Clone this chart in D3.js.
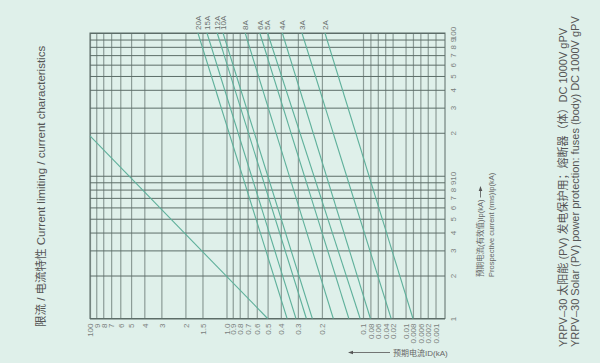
<!DOCTYPE html>
<html><head><meta charset="utf-8">
<script src="https://cdn.jsdelivr.net/npm/d3@7"></script>
<style>html,body{margin:0;padding:0;background:#dff0ea;} svg{display:block}</style>
</head><body>
<svg id="c" width="600" height="363"></svg>
<script>
// ---- data ----
const ipTicks = [1,2,3,4,5,6,7,8,9,10,20,30,40,50,60,70,80,90,100];
const ipTickLabels = ["1","2","3","4","5","6","7","8","9","10","2","3","4","5","6","7","8","9","100"];
const idTicks = [10,9,8,7,6,5,4,3,2,1.5,1.0,0.9,0.8,0.7,0.6,0.5,0.4,0.3,0.2,0.1,0.08,0.06,0.04,0.02,0.01,0.008,0.006,0.002,0.001];
const idTickLabels = ["100","9","8","7","6","5","4","3","2","1.5","1.0","0.9","0.8","0.7","0.6","0.5","0.4","0.3","0.2","0.1","0.08","0.06","0.04","0.02","0.01","0.008","0.006","0.002","0.001"];
const fuseRatings = ["20A","15A","12A","10A","8A","6A","5A","4A","3A","2A"];
const idAtIp100 = [1.62,1.39,1.17,1.06,0.73,0.57,0.50,0.39,0.28,0.19];
const idAtIp1   = [0.36,0.31,0.26,0.235,0.165,0.127,0.105,0.08,0.023,0.008];
const peakIp = [19, 1];
const peakId = [10, 0.5];

// ---- layout ----
const L = 90, R = 445, T = 33, B = 318.5;
const svg = d3.select("#c");
const FONT = "'Liberation Sans','Noto Sans CJK SC',sans-serif";
const CJK = "'Noto Sans CJK SC','Liberation Sans',sans-serif";

// y: prospective current, log
const y = d3.scaleLog().domain([1,100]).range([B, T]);
// x: log from 10 to 0.1, then compressed slots below 0.1
const x01 = 363, step = 7.4;
const compTicks = [0.08,0.06,0.04,0.02,0.01,0.008,0.006,0.002,0.001];
const compSlots = [1,2,3,4,5.75,6.75,7.75,8.75,9.8];
const xLin = d3.scaleLinear()
  .domain([1, -1, ...compTicks.map(v => Math.log10(v))])
  .range([L, x01, ...compSlots.map(s => x01 + s*step)]);
const x = v => xLin(Math.log10(v));

// background
svg.append("rect").attr("width",600).attr("height",363).attr("fill","#dff0ea");

// vertical grid via bottom axis
const xAxis = d3.axisBottom(xLin)
  .tickValues(idTicks.map(v => Math.log10(v)))
  .tickFormat((d,i) => idTickLabels[i])
  .tickSize(-(B - T)).tickSizeOuter(0);
const gx = svg.append("g").attr("transform",`translate(0,${B})`).call(xAxis);
gx.select(".domain").remove();
gx.selectAll(".tick line").attr("stroke","#8c9c97").attr("stroke-width",1.2);
gx.selectAll(".tick text")
  .attr("transform","rotate(-90)").attr("x",-5).attr("y",0).attr("dy","0.35em")
  .style("text-anchor","end").attr("fill","#7a7f7d")
  .style("font-family",FONT).style("font-size","8px");

// horizontal grid via right axis
const yAxis = d3.axisRight(y)
  .tickValues(ipTicks)
  .tickFormat((d,i) => ipTickLabels[i])
  .tickSize(-(R - L)).tickSizeOuter(0);
const gy = svg.append("g").attr("transform",`translate(${R},0)`).call(yAxis);
gy.select(".domain").remove();
gy.selectAll(".tick line").attr("stroke","#5d6d68").attr("stroke-width",1);
gy.selectAll(".tick text")
  .attr("transform","rotate(-90)").attr("x",0).attr("y",8).attr("dy","0.35em")
  .style("text-anchor","middle").attr("fill","#7a7f7d")
  .style("font-family",FONT).style("font-size","8px");

// frame
svg.append("rect").attr("x",L).attr("y",T).attr("width",R-L).attr("height",B-T)
  .attr("fill","none").attr("stroke","#5d6d68").attr("stroke-width",1);

// curves
const line = d3.line().x(d => x(d[0])).y(d => y(d[1]));
const gl = svg.append("g").attr("fill","none").attr("stroke","#5fb09b").attr("stroke-width",1.1);
fuseRatings.forEach((r,i) => {
  gl.append("path").attr("d", line([[idAtIp100[i],100],[idAtIp1[i],1]]));
});
gl.append("path").attr("d", line(peakId.map((d,i) => [d, peakIp[i]])));

// fuse labels
fuseRatings.forEach((r,i) => {
  svg.append("text")
    .attr("transform",`translate(${x(idAtIp100[i])},${T-3}) rotate(-90)`)
    .attr("dy","0.35em").style("text-anchor","start")
    .style("font-family",FONT).style("font-size","8px").attr("fill","#6a6f6d")
    .text(r);
});

// title
svg.append("text").attr("transform","translate(45,327) rotate(-90)")
  .style("font-family",FONT).style("font-size","11.5px").attr("fill","#555")
  .text("限流 / 电流特性 Current limiting / current characteristics");

// right descriptions
svg.append("text").attr("transform","translate(567,347) rotate(-90)")
  .style("font-family",FONT).style("font-size","11px").attr("fill","#555")
  .text("YRPV–30 太阳能 (PV) 发电保护用；熔断器（体）DC  1000V  gPV");
svg.append("text").attr("transform","translate(579,347) rotate(-90)")
  .style("font-family",FONT).style("font-size","11px").attr("fill","#555")
  .text("YRPV–30  Solar (PV) power protection: fuses (body) DC 1000V gPV");

// prospective current label with up arrow
const t1 = svg.append("text").attr("transform","translate(483,277) rotate(-90)")
  .style("font-family",FONT).style("font-size","7.5px").attr("fill","#666")
  .text("预期电流(有效值)Ip(kA)");
const len1 = t1.node().getComputedTextLength();
svg.append("text").attr("transform","translate(494,277) rotate(-90)")
  .style("font-family",FONT).style("font-size","7.5px").attr("fill","#666")
  .text("Prospective current (rms)Ip(kA)");
const ax = 480.5;
svg.append("line").attr("x1",ax).attr("x2",ax).attr("y1",277-len1-2).attr("y2",190)
  .attr("stroke","#555").attr("stroke-width",0.8);
svg.append("path").attr("d",`M${ax},186 L${ax-1.8},191 L${ax+1.8},191 Z`).attr("fill","#555");

// bottom label with left arrow
svg.append("line").attr("x1",352).attr("x2",390).attr("y1",352.5).attr("y2",352.5)
  .attr("stroke","#555").attr("stroke-width",0.8);
svg.append("path").attr("d","M348,352.5 L353,350.7 L353,354.3 Z").attr("fill","#555");
svg.append("text").attr("x",393).attr("y",355.5)
  .style("font-family",FONT).style("font-size","8px").attr("fill","#666")
  .text("预期电流ID(kA)");
</script>
</body></html>
